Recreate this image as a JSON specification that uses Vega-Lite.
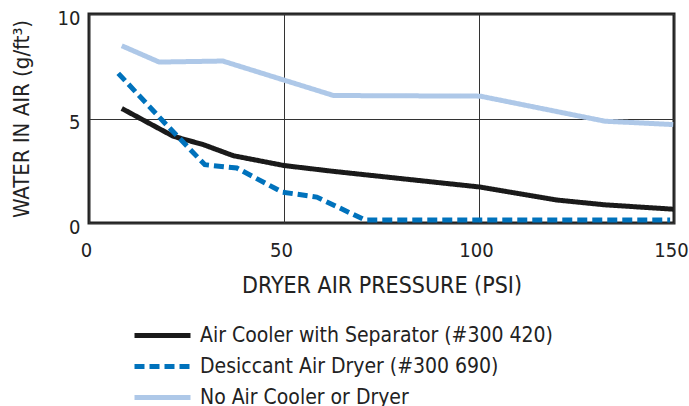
{
  "$schema": "https://vega.github.io/schema/vega-lite/v6.json",
  "width": 585,
  "height": 209,
  "autosize": {"type": "none"},
  "padding": {"left": 89, "top": 14, "right": 15, "bottom": 183},
  "background": "white",
  "config": {
    "font": "DejaVu Sans Condensed",
    "view": {"stroke": "#222222", "strokeWidth": 3},
    "axis": {
      "domain": false,
      "ticks": false,
      "grid": true,
      "gridColor": "#333333",
      "gridWidth": 1,
      "gridOpacity": 1,
      "labelFont": "DejaVu Sans Condensed",
      "labelFontSize": 20,
      "labelColor": "#222222",
      "titleFont": "DejaVu Sans Condensed",
      "titleFontSize": 22,
      "titleFontWeight": "normal",
      "titleColor": "#222222"
    },
    "legend": {
      "labelFont": "DejaVu Sans Condensed",
      "labelFontSize": 21,
      "labelColor": "#222222",
      "labelLimit": 500
    }
  },
  "data": {
    "values": [
      {"series": "Air Cooler with Separator (#300 420)", "psi": 8.4, "water": 5.48},
      {"series": "Air Cooler with Separator (#300 420)", "psi": 21.6, "water": 4.15},
      {"series": "Air Cooler with Separator (#300 420)", "psi": 29.3, "water": 3.75},
      {"series": "Air Cooler with Separator (#300 420)", "psi": 37, "water": 3.22},
      {"series": "Air Cooler with Separator (#300 420)", "psi": 50, "water": 2.75},
      {"series": "Air Cooler with Separator (#300 420)", "psi": 62.7, "water": 2.47},
      {"series": "Air Cooler with Separator (#300 420)", "psi": 100.3, "water": 1.72},
      {"series": "Air Cooler with Separator (#300 420)", "psi": 119.9, "water": 1.1},
      {"series": "Air Cooler with Separator (#300 420)", "psi": 132.3, "water": 0.87},
      {"series": "Air Cooler with Separator (#300 420)", "psi": 149.8, "water": 0.66},
      {"series": "Desiccant Air Dryer (#300 690)", "psi": 7.5, "water": 7.16},
      {"series": "Desiccant Air Dryer (#300 690)", "psi": 19, "water": 4.87},
      {"series": "Desiccant Air Dryer (#300 690)", "psi": 29.7, "water": 2.79},
      {"series": "Desiccant Air Dryer (#300 690)", "psi": 37.9, "water": 2.63},
      {"series": "Desiccant Air Dryer (#300 690)", "psi": 49.5, "water": 1.48},
      {"series": "Desiccant Air Dryer (#300 690)", "psi": 58.4, "water": 1.24},
      {"series": "Desiccant Air Dryer (#300 690)", "psi": 70.8, "water": 0.14},
      {"series": "Desiccant Air Dryer (#300 690)", "psi": 149, "water": 0.14},
      {"series": "No Air Cooler or Dryer", "psi": 8.4, "water": 8.48},
      {"series": "No Air Cooler or Dryer", "psi": 18, "water": 7.7},
      {"series": "No Air Cooler or Dryer", "psi": 34.3, "water": 7.75},
      {"series": "No Air Cooler or Dryer", "psi": 62.7, "water": 6.1},
      {"series": "No Air Cooler or Dryer", "psi": 100.3, "water": 6.07},
      {"series": "No Air Cooler or Dryer", "psi": 132.3, "water": 4.87},
      {"series": "No Air Cooler or Dryer", "psi": 149.8, "water": 4.71}
    ]
  },
  "mark": {"type": "line", "strokeCap": "butt", "strokeJoin": "miter"},
  "encoding": {
    "x": {
      "field": "psi",
      "type": "quantitative",
      "scale": {"domain": [0, 150], "nice": false},
      "axis": {"values": [0, 50, 100, 150], "title": "DRYER AIR PRESSURE (PSI)", "titleFontSize": 23, "labelFlush": false, "labelOffset": -3, "labelPadding": 17, "titlePadding": 14}
    },
    "y": {
      "field": "water",
      "type": "quantitative",
      "scale": {"domain": [0, 10], "nice": false},
      "axis": {"values": [0, 5, 10], "title": "WATER IN AIR (g/ft³)", "labelPadding": 9, "labelOffset": 4, "titlePadding": 24}
    },
    "color": {
      "field": "series",
      "type": "nominal",
      "scale": {
        "domain": ["Air Cooler with Separator (#300 420)", "Desiccant Air Dryer (#300 690)", "No Air Cooler or Dryer"],
        "range": ["#1a1a1a", "#0072bc", "#aec8e8"]
      },
      "legend": {
        "title": null,
        "orient": "none",
        "direction": "vertical",
        "legendX": 57,
        "legendY": 305,
        "symbolType": "M-2,0H2",
        "symbolSize": 784,
        "symbolStrokeWidth": 5,
        "symbolFillColor": "transparent",
        "labelOffset": 21,
        "rowPadding": 4
      }
    },
    "strokeDash": {
      "field": "series",
      "type": "nominal",
      "scale": {
        "domain": ["Air Cooler with Separator (#300 420)", "Desiccant Air Dryer (#300 690)", "No Air Cooler or Dryer"],
        "range": [[1, 0], [10, 5], [1, 0]]
      },
      "legend": null
    },
    "strokeWidth": {
      "field": "series",
      "type": "nominal",
      "scale": {
        "domain": ["Air Cooler with Separator (#300 420)", "Desiccant Air Dryer (#300 690)", "No Air Cooler or Dryer"],
        "range": [5, 5, 6]
      },
      "legend": null
    }
  }
}
